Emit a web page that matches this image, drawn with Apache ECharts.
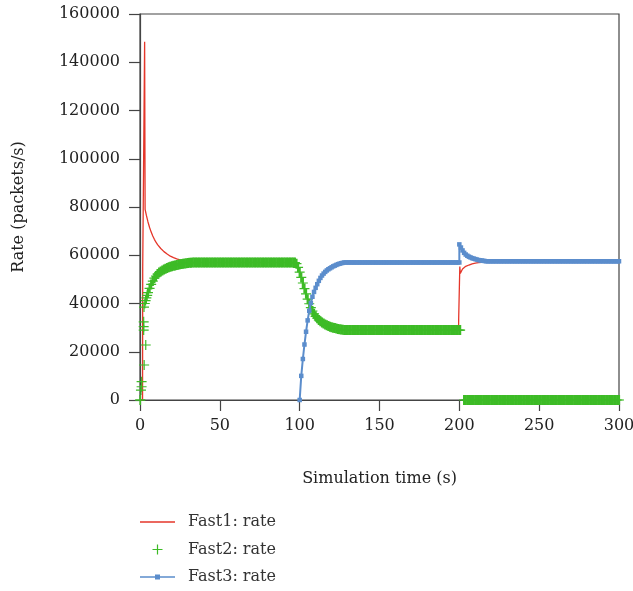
<!DOCTYPE html>
<html>
<head>
<meta charset="utf-8">
<script src="https://cdn.jsdelivr.net/npm/echarts@6/dist/echarts.min.js"></script>
<style>
  html, body { margin: 0; padding: 0; background: #fff; }
  #chart { width: 633px; height: 591px; }
</style>
</head>
<body>
<div id="chart"></div>
<script>
const seriesNames = ['Fast1: rate', 'Fast2: rate', 'Fast3: rate'];

// Fast1 rate samples: [time (s), packets/s]
const fast1Rate = [
  [0, 0], [1.6, 0], [1.7, 54600], [2.8, 54600], [2.9, 148500], [3.2, 79000],
  [4, 76500], [5, 73800], [6, 71500], [7, 69600], [8, 68000], [9, 66600],
  [10, 65400], [11, 64400], [12, 63600], [13, 62800], [14, 62100], [15, 61500],
  [16, 61000], [17, 60500], [18, 60000], [19, 59600], [20, 59300], [21, 59000],
  [22, 58700], [23, 58500], [24, 58300], [25, 58100], [26, 57950], [28, 57700],
  [30, 57500], [33, 57200], [36, 57000], [97, 57000], [98, 56500], [99, 55000],
  [100, 53000], [101, 50800], [102, 48500], [103, 46200], [104, 44000], [105, 41800],
  [106, 39900], [107, 38300], [108, 36900], [109, 35700], [110, 34700], [112, 33200],
  [114, 32100], [116, 31300], [118, 30700], [120, 30200], [122, 29800], [124, 29450],
  [126, 29200], [128, 29000], [199.5, 29000], [199.6, 33900], [200.2, 33900], [200.3, 55300],
  [200.6, 52500], [201, 53300], [202, 54300], [203, 55000], [204, 55400], [205, 55700],
  [206, 55950], [207, 56200], [208, 56400], [209, 56550], [210, 56700], [212, 56900],
  [214, 57050], [216, 57150], [218, 57250], [220, 57350], [222, 57450], [224, 57500],
  [300, 57500]
];

// Fast2 start-up samples: [time (s), packets/s]
const fast2Startup = [
  [0, 0], [0.3, 0], [0.6, 4100], [1, 5500], [1, 7600], [2.6, 14500], [3.6, 22800],
  [2.3, 29000], [2.3, 30400], [2.3, 32400], [2.5, 38500], [3, 40000], [3.5, 41200],
  [4, 42300], [4.5, 43400]
];
// Fast2 one sample per second, t = 5 .. 200
const fast2From = 5;
const fast2Rate = [
  44500, 46300, 47900, 49300, 50500, 51400, 52200, 52800, 53300, 53700,
  54100, 54400, 54700, 55000, 55200, 55400, 55600, 55800, 55950, 56100,
  56250, 56400, 56500, 56600, 56700, 56800, 56850, 56900, 56950,
  57000, 57000, 57000, 57000, 57000, 57000, 57000, 57000, 57000, 57000,
  57000, 57000, 57000, 57000, 57000, 57000, 57000, 57000, 57000, 57000,
  57000, 57000, 57000, 57000, 57000, 57000, 57000, 57000, 57000, 57000,
  57000, 57000, 57000, 57000, 57000, 57000, 57000, 57000, 57000, 57000,
  57000, 57000, 57000, 57000, 57000, 57000, 57000, 57000, 57000, 57000,
  57000, 57000, 57000, 57000, 57000, 57000, 57000, 57000, 57000, 57000,
  57000, 57000, 57000, 57000,
  56500, 55000, 53000, 50800, 48500, 46200, 44000, 41800, 39900, 38300,
  36900, 35700, 34700, 33900, 33200, 32600, 32100, 31700, 31300, 31000,
  30700, 30400, 30200, 30000, 29800, 29600, 29450, 29300, 29200, 29100,
  29000, 29000, 29000, 29000, 29000, 29000, 29000, 29000, 29000, 29000,
  29000, 29000, 29000, 29000, 29000, 29000, 29000, 29000, 29000, 29000,
  29000, 29000, 29000, 29000, 29000, 29000, 29000, 29000, 29000, 29000,
  29000, 29000, 29000, 29000, 29000, 29000, 29000, 29000, 29000, 29000,
  29000, 29000, 29000, 29000, 29000, 29000, 29000, 29000, 29000, 29000,
  29000, 29000, 29000, 29000, 29000, 29000, 29000, 29000, 29000, 29000,
  29000, 29000, 29000, 29000, 29000, 29000, 29000, 29000, 29000, 29000,
  29000, 29000, 29000
];
const fast2Handover = [[200.5, 29000]];
// Fast2 after it goes idle, one sample per second, t = 203 .. 300
const fast2IdleFrom = 203;
const fast2Idle = [
  0, 0, 0, 0, 0, 0, 0, 0, 0, 0,
  0, 0, 0, 0, 0, 0, 0, 0, 0, 0,
  0, 0, 0, 0, 0, 0, 0, 0, 0, 0,
  0, 0, 0, 0, 0, 0, 0, 0, 0, 0,
  0, 0, 0, 0, 0, 0, 0, 0, 0, 0,
  0, 0, 0, 0, 0, 0, 0, 0, 0, 0,
  0, 0, 0, 0, 0, 0, 0, 0, 0, 0,
  0, 0, 0, 0, 0, 0, 0, 0, 0, 0,
  0, 0, 0, 0, 0, 0, 0, 0, 0, 0,
  0, 0, 0, 0, 0, 0, 0, 0
];

// Fast3 one sample per second, t = 100 .. 200
const fast3From = 100;
const fast3Rate = [
  0, 10000, 17000, 23000, 28300, 33000, 37000, 40200, 42800, 44800,
  46500, 48000, 49400, 50600, 51600, 52400, 53100, 53700, 54200, 54600,
  55000, 55400, 55700, 56000, 56300, 56500, 56700, 56850,
  57000, 57000, 57000, 57000, 57000, 57000, 57000, 57000, 57000, 57000,
  57000, 57000, 57000, 57000, 57000, 57000, 57000, 57000, 57000, 57000,
  57000, 57000, 57000, 57000, 57000, 57000, 57000, 57000, 57000, 57000,
  57000, 57000, 57000, 57000, 57000, 57000, 57000, 57000, 57000, 57000,
  57000, 57000, 57000, 57000, 57000, 57000, 57000, 57000, 57000, 57000,
  57000, 57000, 57000, 57000, 57000, 57000, 57000, 57000, 57000, 57000,
  57000, 57000, 57000, 57000, 57000, 57000, 57000, 57000, 57000, 57000,
  57000, 57000, 57000
];
const fast3Jump = [[200, 64500]];
// Fast3 settling, one sample per second, t = 201 .. 300
const fast3SettleFrom = 201;
const fast3Settle = [
  63200, 62000, 61000, 60300, 59800, 59400, 59100, 58800, 58600, 58400,
  58200, 58000, 57900, 57800, 57700, 57600,
  57500, 57500, 57500, 57500, 57500, 57500, 57500, 57500, 57500, 57500,
  57500, 57500, 57500, 57500, 57500, 57500, 57500, 57500, 57500, 57500,
  57500, 57500, 57500, 57500, 57500, 57500, 57500, 57500, 57500, 57500,
  57500, 57500, 57500, 57500, 57500, 57500, 57500, 57500, 57500, 57500,
  57500, 57500, 57500, 57500, 57500, 57500, 57500, 57500, 57500, 57500,
  57500, 57500, 57500, 57500, 57500, 57500, 57500, 57500, 57500, 57500,
  57500, 57500, 57500, 57500, 57500, 57500, 57500, 57500, 57500, 57500,
  57500, 57500, 57500, 57500, 57500, 57500, 57500, 57500, 57500, 57500,
  57500, 57500, 57500, 57500
];

const xRange = [0, 300, 50];
const yRange = [0, 160000, 20000];

const toPairs = (from, values) => values.map((v, i) => [from + i, v]);

const serif = 'DejaVu Serif';
const axisColor = '#444';
const textColor = '#222';
const colors = ['#e5362a', '#3dbb26', '#5b8dcc'];
// thin plus for isolated samples, heavier plus so the per-second samples merge into a band
const thinPlus = 'path://M4.4,0H5.6V4.4H10V5.6H5.6V10H4.4V5.6H0V4.4H4.4Z';
const bandPlus = 'path://M3.9,0H6.1V4.4H10V5.6H6.1V10H3.9V5.6H0V4.4H3.9Z';

const chart = echarts.init(document.getElementById('chart'), null, { renderer: 'canvas' });

chart.setOption({
  animation: false,
  backgroundColor: '#fff',
  textStyle: { fontFamily: serif },
  grid: {
    left: 140, right: 14, top: 14, bottom: 191,
    outerBoundsMode: 'none',
    show: true, borderColor: axisColor, borderWidth: 1.2, backgroundColor: 'transparent'
  },
  xAxis: {
    type: 'value',
    min: xRange[0], max: xRange[1], interval: xRange[2],
    name: 'Simulation time (s)',
    nameLocation: 'middle',
    nameGap: 71,
    nameTextStyle: { fontFamily: serif, fontSize: 16, color: textColor },
    axisLine: { show: true, lineStyle: { color: axisColor, width: 1.2 } },
    axisTick: { show: true, length: 11, lineStyle: { color: axisColor, width: 1.2 } },
    axisLabel: { margin: 18, fontFamily: serif, fontSize: 16, color: textColor },
    splitLine: { show: false }
  },
  yAxis: {
    type: 'value',
    min: yRange[0], max: yRange[1], interval: yRange[2],
    name: 'Rate (packets/s)',
    nameLocation: 'middle',
    nameGap: 113,
    nameTextStyle: { fontFamily: serif, fontSize: 16, color: textColor },
    axisLine: { show: true, lineStyle: { color: axisColor, width: 1.2 } },
    axisTick: { show: true, length: 11, lineStyle: { color: axisColor, width: 1.2 } },
    axisLabel: {
      margin: 20, fontFamily: serif, fontSize: 16, color: textColor,
      formatter: v => String(v)
    },
    splitLine: { show: false }
  },
  legend: {
    orient: 'vertical',
    left: 140, top: 514, height: 77,
    padding: 0,
    itemWidth: 35, itemHeight: 10, itemGap: 11.5,
    selectedMode: false,
    itemStyle: { borderWidth: 0 },
    textStyle: {
      fontFamily: serif, fontSize: 16, lineHeight: 14, color: '#333',
      padding: [0, 0, 0, 8]
    },
    data: [
      { name: seriesNames[0], icon: 'path://M0,0H35V1.4H0Z' },
      { name: seriesNames[1], icon: thinPlus },
      { name: seriesNames[2], icon: 'path://M0,1.8H35V3.2H0Z M15,0H20V5H15Z' }
    ]
  },
  series: [
    {
      name: seriesNames[0],
      type: 'line',
      z: 2,
      data: fast1Rate,
      symbol: 'none',
      lineStyle: { color: colors[0], width: 1.3 },
      itemStyle: { color: colors[0] }
    },
    {
      name: seriesNames[1],
      type: 'scatter',
      z: 3,
      data: fast2Startup.map(p => ({ value: p, symbol: thinPlus }))
        .concat(toPairs(fast2From, fast2Rate))
        .concat(fast2Handover)
        .concat(toPairs(fast2IdleFrom, fast2Idle)),
      symbol: bandPlus,
      symbolSize: 10,
      itemStyle: { color: colors[1], opacity: 1 }
    },
    {
      name: seriesNames[2],
      type: 'line',
      z: 4,
      data: toPairs(fast3From, fast3Rate)
        .concat(fast3Jump)
        .concat(toPairs(fast3SettleFrom, fast3Settle)),
      symbol: 'rect',
      symbolSize: 4.5,
      lineStyle: { color: colors[2], width: 2 },
      itemStyle: { color: colors[2] }
    }
  ]
});
</script>
</body>
</html>
